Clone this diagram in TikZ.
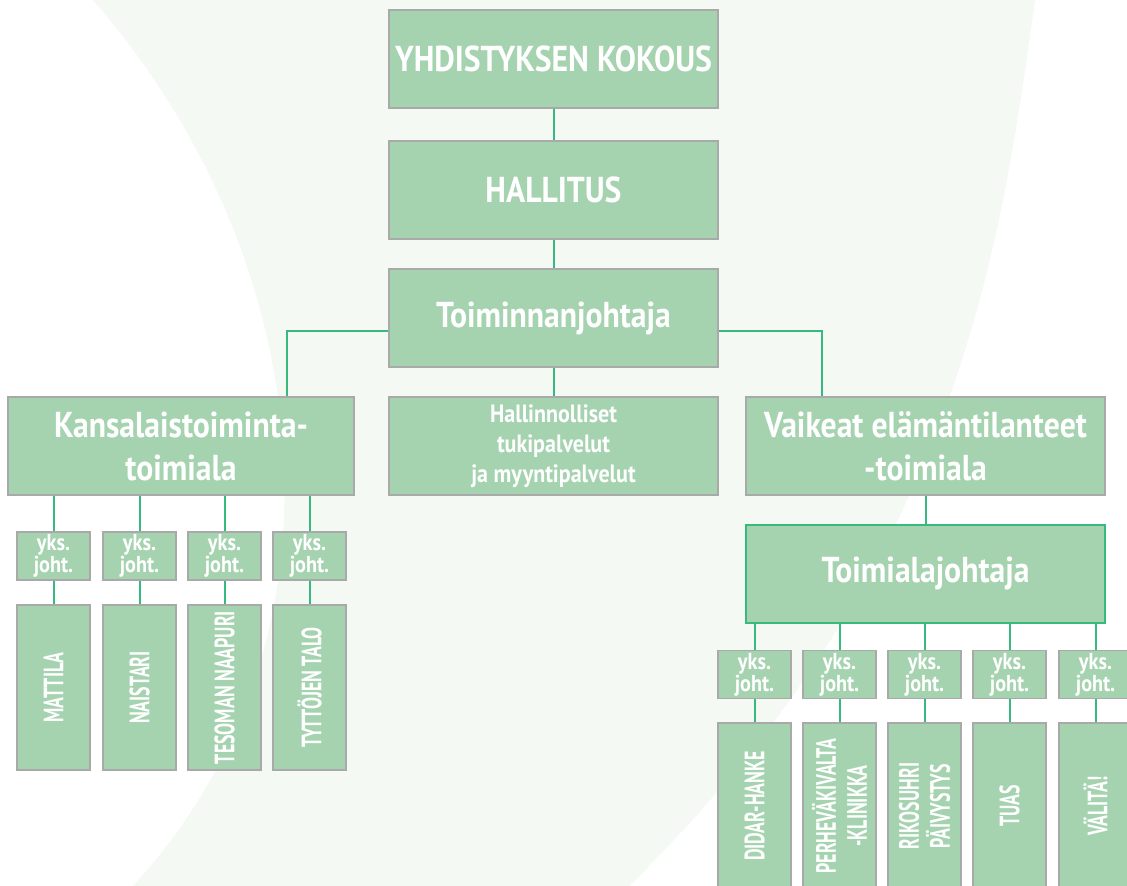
\documentclass[tikz,border=0pt]{standalone}
\usepackage{fontspec}
\setmainfont{PT Sans}[FakeStretch=0.88]
\newfontfamily\vertfont{PT Sans}[FakeStretch=0.64]
\usepackage{tikz}
\usetikzlibrary{positioning}

\definecolor{boxgreen}{HTML}{A5D3B0}
\definecolor{boxgray}{HTML}{A9A9A9}
\definecolor{linegreen}{HTML}{38BA7E}
\definecolor{tint}{HTML}{F4F9F4}

\begin{document}
\begin{tikzpicture}
  [
    x=1pt, y=-1pt,
    unit/.style={
      fill=boxgreen,
      draw=boxgray,
      line width=1.5pt,
      text=white,
      inner sep=0pt,
      align=center
    },
    head/.style={unit,
      minimum width=329pt,
      minimum height=98pt,
      font=\bfseries\fontsize{36}{43}\selectfont
    },
    yks/.style={unit,
      minimum width=73pt,
      minimum height=48pt,
      font=\bfseries\fontsize{23}{22}\selectfont
    },
    unitv/.style={unit,
      rotate=90,
      minimum width=165pt,
      minimum height=73pt,
      font=\vertfont\bfseries\fontsize{28}{31}\selectfont
    },
    conn/.style={draw=linegreen, line width=2pt}
  ]
  \useasboundingbox (0,0) rectangle (1127,886);
  % background
  \fill[white] (0,0) rectangle (1127,886);
  \fill[tint] (93,0) -- (1035,0) .. controls (1000,250) and (960,560) .. (629,886)
    -- (133,886) .. controls (360,640) and (320,260) .. (93,0);

  % top levels
  \node (meet) at (553.5,59) [head] {YHDISTYKSEN KOKOUS};
  \node (board) at (553.5,190) [head] {HALLITUS};
  \node (ceo) at (553.5,318) [head] {Toiminnanjohtaja};

  \node (kans) at (181,446) [head, minimum width=346pt] {Kansalaistoiminta-\\toimiala};
  \node (admin) at (553.5,446) [head, font=\bfseries\fontsize{25}{30}\selectfont]
    {Hallinnolliset\\tukipalvelut\\ja myyntipalvelut};
  \node (vaik) at (925.5,446) [head, minimum width=359pt] {Vaikeat elämäntilanteet\\-toimiala};
  \node (tjoht) at (925.5,573.5) [head, minimum width=359pt, draw=linegreen, line width=2pt]
    {Toimialajohtaja};

  % kansalaistoiminta units
  \node (ky1) at (53.5,556) [yks] {yks.\\joht.};
  \node (ky2) at (139.5,556) [yks] {yks.\\joht.};
  \node (ky3) at (224.5,556) [yks] {yks.\\joht.};
  \node (ky4) at (309.5,556) [yks] {yks.\\joht.};

  \node (kb1) at (53.5,687.5) [unitv] {MATTILA};
  \node (kb2) at (139.5,687.5) [unitv] {NAISTARI};
  \node (kb3) at (224.5,687.5) [unitv] {TESOMAN NAAPURI};
  \node (kb4) at (309.5,687.5) [unitv] {TYTTÖJEN TALO};

  % vaikeat elamantilanteet units
  \node (vy1) at (754.5,674.5) [yks] {yks.\\joht.};
  \node (vy2) at (839.5,674.5) [yks] {yks.\\joht.};
  \node (vy3) at (924.5,674.5) [yks] {yks.\\joht.};
  \node (vy4) at (1009.5,674.5) [yks] {yks.\\joht.};
  \node (vy5) at (1095.5,674.5) [yks] {yks.\\joht.};

  \node (vb1) at (754.5,806) [unitv, minimum width=166pt] {DIDAR-HANKE};
  \node (vb2) at (839.5,806) [unitv, minimum width=166pt] {PERHEVÄKIVALTA\\-KLINIKKA};
  \node (vb3) at (924.5,806) [unitv, minimum width=166pt] {RIKOSUHRI\\PÄIVYSTYS};
  \node (vb4) at (1009.5,806) [unitv, minimum width=166pt] {TUAS};
  \node (vb5) at (1095.5,806) [unitv, minimum width=166pt] {VÄLITÄ!};

  % connectors
  \draw[conn] (meet) -- (board);
  \draw[conn] (board) -- (ceo);
  \draw[conn] (ceo) -- (admin);
  \draw[conn] ([yshift=-13pt]ceo.west) -| ([xshift=106pt]kans.north);
  \draw[conn] ([yshift=-13pt]ceo.east) -| ([xshift=-103.5pt]vaik.north);
  \draw[conn] (vaik) -- (tjoht);

  \draw[conn] (ky1 |- kans.south) -- (ky1) -- (kb1);
  \draw[conn] (ky2 |- kans.south) -- (ky2) -- (kb2);
  \draw[conn] (ky3 |- kans.south) -- (ky3) -- (kb3);
  \draw[conn] (ky4 |- kans.south) -- (ky4) -- (kb4);

  \draw[conn] (vy1 |- tjoht.south) -- (vy1) -- (vb1);
  \draw[conn] (vy2 |- tjoht.south) -- (vy2) -- (vb2);
  \draw[conn] (vy3 |- tjoht.south) -- (vy3) -- (vb3);
  \draw[conn] (vy4 |- tjoht.south) -- (vy4) -- (vb4);
  \draw[conn] (vy5 |- tjoht.south) -- (vy5) -- (vb5);
\end{tikzpicture}
\end{document}
